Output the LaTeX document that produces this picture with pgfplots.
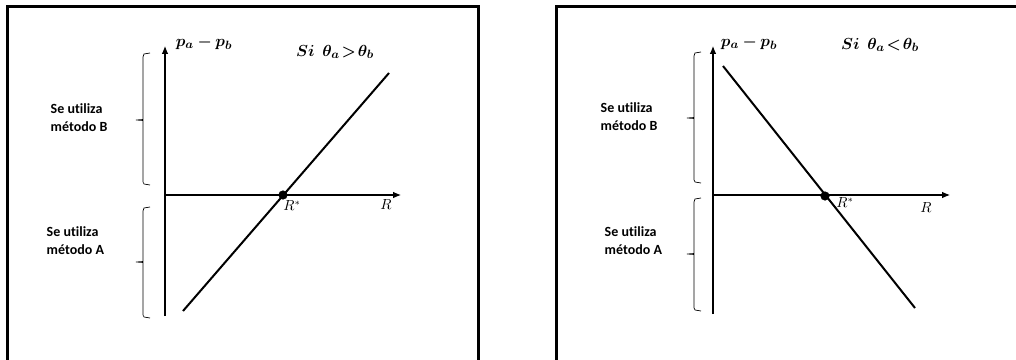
\documentclass[border=0pt]{standalone}
\usepackage{pgfplots}
\pgfplotsset{compat=1.18}
\usepackage{bm}
\usepackage{fontspec}
\setmainfont{Carlito}[Ligatures={NoCommon}]
\usetikzlibrary{arrows.meta}
\begin{document}
\begin{tikzpicture}
\begin{axis}[name=main, scale only axis, width=762pt, height=270pt,
  xmin=0, xmax=1016, ymin=0, ymax=360, y dir=reverse, hide axis, clip=false]
% frames
\addplot[line width=2.25pt] coordinates {(7,372) (7,7) (478,7) (478,372)};
\addplot[line width=2.25pt] coordinates {(556,372) (556,7) (1030,7)};
% ---------- left panel ----------
\addplot[line width=0.8pt, -{Latex[length=6pt,width=5pt]}] coordinates {(165,316) (165,46)};
\addplot[line width=0.8pt, -{Latex[length=6pt,width=5pt]}] coordinates {(165,195) (401,195)};
\addplot[line width=1.5pt] coordinates {(183,311) (389,73)};
\addplot[only marks, mark=*, mark size=3.2pt, black] coordinates {(283,195)};
\addplot[line width=0.5pt] coordinates {(150,53) (144,54) (143,57) (143,119.5) (136,120) (143,120.5) (143,182) (144,184) (150,185)};
\addplot[line width=0.5pt] coordinates {(150,207) (144,208) (143,211) (143,261.5) (136,262) (143,262.5) (143,315) (144,317) (150,318)};
\node at (axis cs:204,43) {\fontsize{13}{15}\selectfont $\bm{p_a - p_b}$};
\node at (axis cs:335,52) {\fontsize{13}{15}\selectfont $\bm{Si\ \ \theta_a \!>\! \theta_b}$};
\node at (axis cs:292,206) {\fontsize{10.5}{12}\selectfont $R^{*}$};
\node at (axis cs:386,205) {\fontsize{10.5}{12}\selectfont $R$};
\node[anchor=west, align=left, font=\fontsize{10.5}{13.5}\selectfont\bfseries] at (axis cs:46,117.5) {Se utiliza\\método B};
\node[anchor=west, align=left, font=\fontsize{10.5}{13.5}\selectfont\bfseries] at (axis cs:42,240.5) {Se utiliza\\método A};
% ---------- right panel ----------
\addplot[line width=0.8pt, -{Latex[length=6pt,width=5pt]}] coordinates {(713,314) (713,46)};
\addplot[line width=0.8pt, -{Latex[length=6pt,width=5pt]}] coordinates {(713,195) (950,195)};
\addplot[line width=1.5pt] coordinates {(723,66) (915,308)};
\addplot[only marks, mark=*, mark size=3.2pt, black] coordinates {(825,196)};
\addplot[line width=0.5pt] coordinates {(701,52) (695,53) (694,56) (694,117.5) (687,118) (694,118.5) (694,180) (695,182) (701,183)};
\addplot[line width=0.5pt] coordinates {(701,198) (695,199) (694,202) (694,253.5) (687,254) (694,254.5) (694,308) (695,310) (701,311)};
\node at (axis cs:749,43) {\fontsize{13}{15}\selectfont $\bm{p_a - p_b}$};
\node at (axis cs:880,45) {\fontsize{13}{15}\selectfont $\bm{Si\ \ \theta_a \!<\! \theta_b}$};
\node at (axis cs:845,203) {\fontsize{10.5}{12}\selectfont $R^{*}$};
\node at (axis cs:926,208) {\fontsize{10.5}{12}\selectfont $R$};
\node[anchor=west, align=left, font=\fontsize{10.5}{13.5}\selectfont\bfseries] at (axis cs:596,116.5) {Se utiliza\\método B};
\node[anchor=west, align=left, font=\fontsize{10.5}{13.5}\selectfont\bfseries] at (axis cs:600,241) {Se utiliza\\método A};
\end{axis}
\pgfresetboundingbox
\path (main.south west) rectangle (main.north east);
\end{tikzpicture}
\end{document}
